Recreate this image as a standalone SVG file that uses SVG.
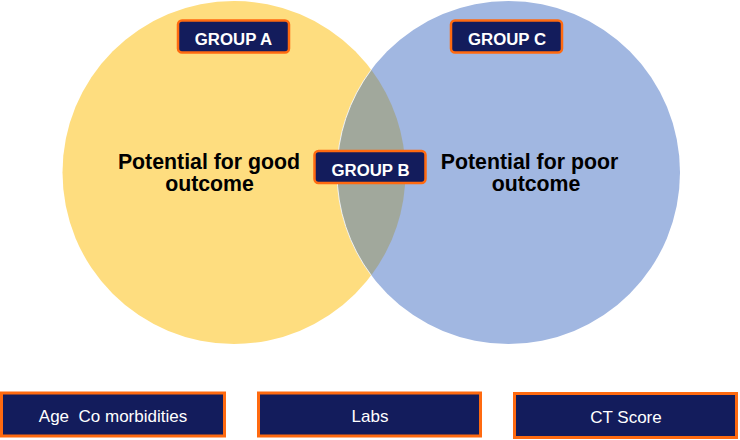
<svg xmlns="http://www.w3.org/2000/svg" width="740" height="440" viewBox="0 0 740 440">
  <style>
    .tag { fill: #131c5c; stroke: #ff6a10; stroke-width: 2.5; }
    .tag-text { fill: #ffffff; font-family: "Liberation Sans", Arial, sans-serif; font-weight: bold; font-size: 16.8px; text-anchor: middle; }
    .factor { fill: #131c5c; stroke: #ff6a10; stroke-width: 3; }
    .factor-text { fill: #ffffff; font-family: "Liberation Sans", Arial, sans-serif; font-size: 17px; text-anchor: middle; }
    .outcome-text { fill: #000000; font-family: "Liberation Sans", Arial, sans-serif; font-weight: bold; font-size: 21.3px; text-anchor: middle; }
  </style>
  <rect width="740" height="440" fill="#ffffff"/>

  <!-- Venn circles -->
  <g id="circle-good">
    <circle cx="234" cy="172.5" r="171.5" fill="#fedd7f"/>
  </g>
  <g id="circle-poor">
    <circle cx="508.5" cy="172.5" r="171.5" fill="#a1b7e1"/>
  </g>
  <g id="overlap">
    <path d="M371.25 69.7 A171.5 171.5 0 0 1 371.25 275.3 A171.5 171.5 0 0 1 371.25 69.7 Z" fill="#a1a89c"/>
    <path d="M371.25 275.3 A171.5 171.5 0 0 1 371.25 69.7" fill="none" stroke="#ffffff" stroke-width="1" stroke-opacity="0.8"/>
  </g>

  <!-- Outcome labels -->
  <g id="label-good">
    <text class="outcome-text" x="209" y="168.5">Potential for good</text>
    <text class="outcome-text" x="209.5" y="190.5">outcome</text>
  </g>
  <g id="label-poor">
    <text class="outcome-text" x="529.5" y="168.5">Potential for poor</text>
    <text class="outcome-text" x="536" y="190.5">outcome</text>
  </g>

  <!-- Group tags -->
  <g id="group-a">
    <rect class="tag" x="178" y="20.5" width="111" height="32" rx="4"/>
    <text class="tag-text" x="233.5" y="45">GROUP A</text>
  </g>
  <g id="group-b">
    <rect class="tag" x="314.5" y="151" width="111" height="32" rx="4"/>
    <text class="tag-text" x="370.5" y="175.5">GROUP B</text>
  </g>
  <g id="group-c">
    <rect class="tag" x="451" y="20.5" width="111" height="32" rx="4"/>
    <text class="tag-text" x="507" y="45">GROUP C</text>
  </g>

  <!-- Factor boxes -->
  <g id="factor-age">
    <rect class="factor" x="1.5" y="393" width="223" height="43"/>
    <text class="factor-text" x="113" y="422" xml:space="preserve">Age  Co morbidities</text>
  </g>
  <g id="factor-labs">
    <rect class="factor" x="258.5" y="393" width="222" height="43"/>
    <text class="factor-text" x="370" y="422">Labs</text>
  </g>
  <g id="factor-ct">
    <rect class="factor" x="514.5" y="393.5" width="222" height="44"/>
    <text class="factor-text" x="626" y="423">CT Score</text>
  </g>

  <g id="connectors"/>
</svg>
